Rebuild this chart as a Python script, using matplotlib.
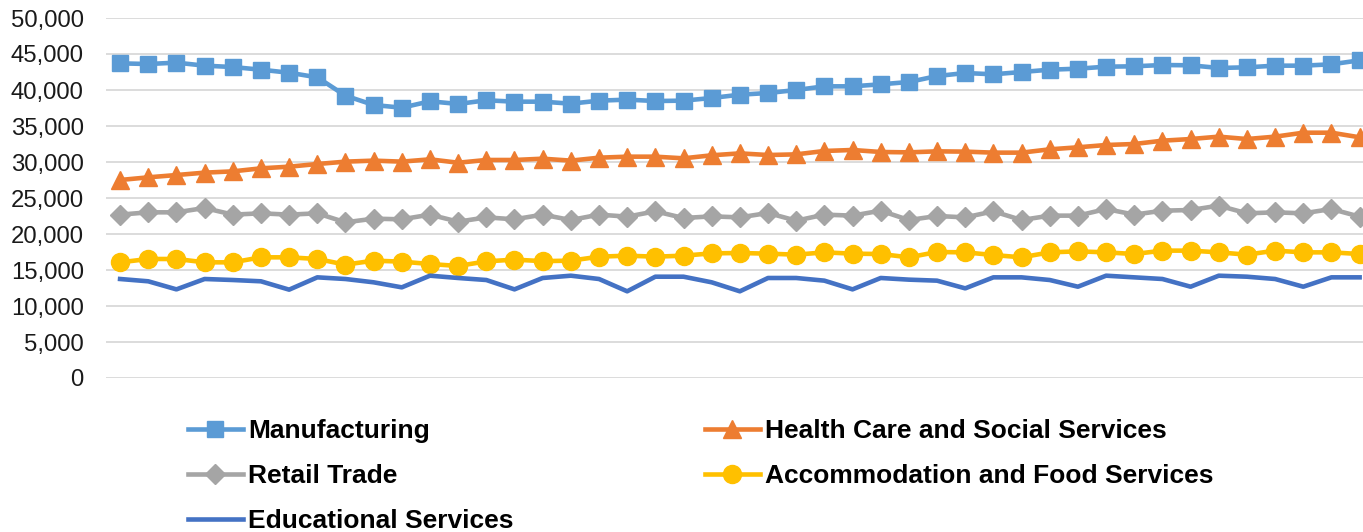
import matplotlib
matplotlib.use("Agg")
import matplotlib.pyplot as plt
from matplotlib.ticker import FuncFormatter, MultipleLocator

plt.rcParams['font.family'] = ['Liberation Sans', 'DejaVu Sans']

manufacturing = [43700, 43610, 43800, 43380, 43190, 42820, 42400, 41760, 39210, 37920,
                 37540, 38430, 38060, 38570, 38380, 38380, 38100, 38520, 38660, 38470,
                 38520, 38890, 39350, 39580, 40000, 40510, 40510, 40790, 41110, 41940,
                 42360, 42180, 42500, 42820, 42960, 43240, 43290, 43470, 43430, 43060,
                 43150, 43380, 43380, 43570, 44120]
health = [27500, 27870, 28190, 28520, 28700, 29120, 29350, 29720, 30050, 30190,
          30050, 30370, 29900, 30280, 30280, 30460, 30190, 30600, 30740, 30740,
          30510, 30930, 31200, 30970, 31060, 31530, 31670, 31390, 31340, 31480,
          31440, 31300, 31300, 31760, 32040, 32360, 32500, 32960, 33190, 33520,
          33190, 33520, 34070, 34070, 33430]
retail = [22690, 23010, 23010, 23610, 22690, 22870, 22690, 22870, 21620, 22130,
          22040, 22690, 21710, 22310, 22040, 22690, 21940, 22690, 22410, 23150,
          22220, 22450, 22310, 22920, 21850, 22690, 22550, 23240, 21940, 22500,
          22310, 23150, 21940, 22550, 22550, 23470, 22690, 23240, 23330, 23940,
          22870, 23010, 22870, 23470, 22410]
accommodation = [16065, 16530, 16530, 16065, 16065, 16760, 16760, 16530, 15740, 16300,
                 16160, 15830, 15560, 16200, 16440, 16230, 16300, 16850, 16990, 16850,
                 16990, 17310, 17360, 17270, 17130, 17450, 17270, 17220, 16760, 17500,
                 17450, 17080, 16760, 17450, 17590, 17450, 17220, 17690, 17690, 17450,
                 17130, 17690, 17450, 17450, 17220]
educational = [13750, 13430, 12310, 13750, 13610, 13430, 12270, 13980, 13750, 13290,
               12590, 14210, 13890, 13610, 12310, 13890, 14210, 13750, 12040, 14070,
               14070, 13290, 12040, 13890, 13890, 13520, 12310, 13890, 13660, 13520,
               12450, 13980, 13980, 13610, 12680, 14210, 13980, 13750, 12680, 14210,
               14070, 13750, 12680, 13980, 13980]

labels = ["Manufacturing", "Health Care and Social Services", "Retail Trade",
          "Accommodation and Food Services", "Educational Services"]
colors = ["#5B9BD5", "#ED7D31", "#A5A5A5", "#FFC000", "#4472C4"]

x = list(range(len(manufacturing)))

fig = plt.figure(figsize=(13.63, 5.32), dpi=100)
ax = fig.add_axes([106 / 1363, (532 - 378) / 532, 1 - 106 / 1363, 360 / 532])

lw = 3.3
h_m, = ax.plot(x, manufacturing, color=colors[0], lw=lw, marker='s', ms=12,
               label=labels[0], zorder=5)
h_h, = ax.plot(x, health, color=colors[1], lw=lw, marker='^', ms=13.5,
               label=labels[1], zorder=5)
h_r, = ax.plot(x, retail, color=colors[2], lw=lw, marker='D', ms=10.5,
               label=labels[2], zorder=5)
h_a, = ax.plot(x, accommodation, color=colors[3], lw=lw, marker='o', ms=13,
               label=labels[3], zorder=5)
h_e, = ax.plot(x, educational, color=colors[4], lw=lw, label=labels[4], zorder=5)

ax.set_xlim(-0.5, 44.12)
ax.set_ylim(0, 50000)
ax.yaxis.set_major_locator(MultipleLocator(5000))
ax.yaxis.set_major_formatter(FuncFormatter(lambda v, p: f"{int(v):,}"))
ax.grid(axis='y', color='#D9D9D9', lw=1.3)
ax.set_axisbelow(True)
ax.set_xticks([])
for s in ax.spines.values():
    s.set_visible(False)
ax.tick_params(axis='y', length=0, pad=16, labelsize=17.2, labelcolor='#1a1a1a')

handles = [h_m, h_r, h_e, h_h, h_a]
leg = fig.legend(handles, [h.get_label() for h in handles], ncol=2,
                 loc='upper left', bbox_to_anchor=(188 / 1363, (532 - 419) / 532),
                 frameon=False, borderpad=0, borderaxespad=0,
                 handlelength=2.08, handletextpad=0.19, columnspacing=7.25,
                 labelspacing=0.80, prop={'weight': 'bold', 'size': 19})

fig.savefig("out.png", dpi=100)
